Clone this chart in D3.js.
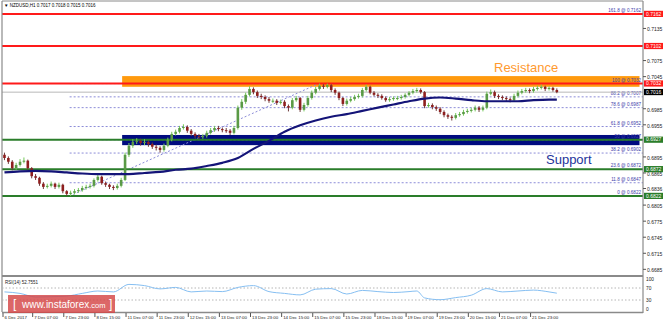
<!DOCTYPE html>
<html><head><meta charset="utf-8">
<script src="https://cdn.jsdelivr.net/npm/d3@7"></script>
<style>
html,body{margin:0;padding:0;background:#fff;}
svg{display:block;font-family:"Liberation Sans",Arial,sans-serif;}
</style></head><body>
<svg id="c" width="663" height="322"></svg>
<script>
// ---------------- DATA ----------------
const symbol = "NZDUSD,H1";
const lastOHLC = ["0.7017", "0.7018", "0.7015", "0.7016"];
const lastPrice = 0.7016;
const hoursPerCandle = 2;
const firstOpen = 0.6899;
const closes = [
0.6893,0.6886,0.6874,0.6880,0.6886,0.6888,0.6874,0.6859,0.6856,0.6845,
0.6839,0.6841,0.6845,0.6839,0.6843,0.6831,0.6826,0.6828,0.6831,0.6833,
0.6837,0.6839,0.6841,0.6852,0.6858,0.6846,0.6843,0.6839,0.6837,0.6841,
0.6852,0.6899,0.6916,0.6923,0.6925,0.6921,0.6923,0.6919,0.6914,0.6912,
0.6908,0.6916,0.6927,0.6938,0.6942,0.6949,0.6951,0.6944,0.6938,0.6934,
0.6932,0.6934,0.6940,0.6945,0.6949,0.6947,0.6945,0.6944,0.6940,0.6949,
0.6987,0.6998,0.7011,0.7022,0.7016,0.7009,0.7007,0.7003,0.7000,0.7000,
0.6996,0.6998,0.6990,0.6987,0.7001,0.7005,0.6983,0.6992,0.7005,0.7015,
0.7022,0.7028,0.7026,0.7029,0.7020,0.7015,0.7005,0.6994,0.7000,0.7003,
0.7007,0.7009,0.7020,0.7026,0.7015,0.7011,0.7009,0.7005,0.7001,0.7003,
0.7005,0.7005,0.7007,0.7011,0.7015,0.7018,0.7020,0.7016,0.6990,0.6992,
0.6988,0.6985,0.6979,0.6973,0.6970,0.6968,0.6973,0.6975,0.6979,0.6981,
0.6983,0.6987,0.6983,0.6987,0.7013,0.7016,0.7009,0.7007,0.7005,0.7003,
0.7001,0.7009,0.7015,0.7018,0.7020,0.7018,0.7022,0.7024,0.7026,0.7022,
0.7024,0.7020,0.7016];
const highs = [
0.6903,0.6896,0.6889,0.6884,0.6891,0.6894,0.6890,0.6876,0.6863,0.6858,
0.6848,0.6845,0.6849,0.6847,0.6847,0.6845,0.6833,0.6832,0.6835,0.6837,
0.6841,0.6843,0.6845,0.6855,0.6862,0.6860,0.6849,0.6845,0.6842,0.6845,
0.6856,0.6903,0.6921,0.6928,0.6930,0.6929,0.6928,0.6926,0.6922,0.6918,
0.6915,0.6920,0.6931,0.6942,0.6946,0.6953,0.6956,0.6954,0.6947,0.6941,
0.6938,0.6938,0.6944,0.6949,0.6953,0.6953,0.6950,0.6949,0.6947,0.6953,
0.6991,0.7003,0.7015,0.7027,0.7025,0.7019,0.7013,0.7010,0.7007,0.7004,
0.7003,0.7002,0.7001,0.6993,0.7005,0.7009,0.7007,0.6996,0.7009,0.7019,
0.7026,0.7032,0.7031,0.7032,0.7031,0.7023,0.7017,0.7007,0.7004,0.7007,
0.7011,0.7013,0.7024,0.7030,0.7028,0.7018,0.7014,0.7012,0.7008,0.7007,
0.7008,0.7009,0.7011,0.7014,0.7018,0.7022,0.7024,0.7023,0.7018,0.6996,
0.6995,0.6991,0.6988,0.6982,0.6976,0.6973,0.6977,0.6979,0.6983,0.6985,
0.6987,0.6991,0.6990,0.6991,0.7017,0.7021,0.7019,0.7012,0.7010,0.7008,
0.7006,0.7013,0.7019,0.7022,0.7024,0.7023,0.7026,0.7028,0.7030,0.7028,
0.7027,0.7026,0.7023];
const lows = [
0.6889,0.6882,0.6870,0.6871,0.6877,0.6883,0.6871,0.6855,0.6852,0.6841,
0.6835,0.6836,0.6838,0.6835,0.6836,0.6827,0.6822,0.6822,0.6825,0.6828,
0.6830,0.6834,0.6836,0.6838,0.6849,0.6843,0.6839,0.6835,0.6833,0.6834,
0.6838,0.6850,0.6895,0.6912,0.6919,0.6916,0.6917,0.6914,0.6910,0.6907,
0.6903,0.6905,0.6913,0.6924,0.6935,0.6939,0.6946,0.6940,0.6934,0.6930,
0.6928,0.6929,0.6931,0.6937,0.6942,0.6943,0.6941,0.6940,0.6936,0.6937,
0.6946,0.6983,0.6994,0.7008,0.7012,0.7005,0.7003,0.6999,0.6996,0.6996,
0.6992,0.6993,0.6986,0.6980,0.6984,0.6998,0.6979,0.6980,0.6989,0.7002,
0.7012,0.7019,0.7022,0.7023,0.7016,0.7011,0.7001,0.6990,0.6991,0.6997,
0.7000,0.7004,0.7006,0.7017,0.7012,0.7008,0.7005,0.7002,0.6998,0.6998,
0.7000,0.7001,0.7002,0.7004,0.7008,0.7012,0.7015,0.7013,0.6986,0.6987,
0.6984,0.6981,0.6975,0.6969,0.6966,0.6963,0.6965,0.6970,0.6972,0.6976,
0.6978,0.6980,0.6979,0.6980,0.6984,0.7010,0.7005,0.7003,0.7001,0.6999,
0.6997,0.6998,0.7006,0.7012,0.7015,0.7014,0.7015,0.7019,0.7021,0.7018,
0.7019,0.7017,0.7014];
// moving average, sampled at candle indices
const maCandle = [0,4,8,12,16,20,24,28,32,36,40,44,48,52,56,60,64,68,72,76,80,84,88,92,96,100,104,108,112,116,120,124,128,132,136,140,142];
const maValues = [0.6866,0.6868,0.6869,0.6868,0.6866,0.6864,0.6863,0.6863,0.6863,0.6865,0.6867,0.6871,0.6873,0.6878,0.6884,0.6893,0.6910,0.6925,0.6942,0.6954,0.6963,0.6970,0.6975,0.6981,0.6987,0.6993,0.6999,0.7004,0.7006,0.7004,0.7001,0.6999,0.6999,0.6999,0.7001,0.7002,0.7002];
// RSI(14), sampled at candle indices
const rsiCandle = [0,4,8,12,16,20,24,28,32,36,40,44,48,52,56,60,64,68,72,76,80,84,88,92,96,100,104,106,108,112,116,120,124,128,132,136,140,142];
const rsiValues = [57,52,40,41,43,52,60,57,82,78,67,72,57,60,58,72,78,58,52,47,66,68,50,62,58,55,58,60,37,31,38,46,68,57,60,63,57,52.7551];
const rsiLabel = "RSI(14) 52.7551";
// time axis
const timeLabels = ["6 Dec 2017","7 Dec 07:00","7 Dec 23:00","8 Dec 15:00","11 Dec 07:00","11 Dec 23:00","12 Dec 15:00","13 Dec 07:00","13 Dec 23:00","14 Dec 15:00","15 Dec 07:00","15 Dec 23:00","18 Dec 15:00","19 Dec 07:00","19 Dec 23:00","20 Dec 15:00","21 Dec 07:00","21 Dec 23:00"];
const timeLabelHours = [0,15,31,47,63,79,95,111,127,143,159,175,191,207,223,239,255,271];
// price axis (only the labels not covered by level boxes)
const priceTicks = [0.7135,0.7075,0.7045,0.6985,0.6955,0.6895,0.6865,0.6836,0.6805,0.6775,0.6745,0.6715,0.6685];
const redLevels = [0.7162, 0.7102, 0.7032];
const greenLevels = [0.6927, 0.6872, 0.6822];
// fibonacci
const fibLow = 0.6822, fibHigh = 0.7032;
const fibLowHour = 34, fibHighHour = 162;
const fibRatios = [0, 11.8, 23.6, 38.2, 50, 61.8, 78.6, 88.2, 100, 161.8];
// zones
const resistanceZone = [0.7026, 0.7046];
const supportZone = [0.6917, 0.6936];
const zoneHours = [61, 327];
const rsiLevels = [70, 30];
const rsiTicks = [100, 70, 30, 0];

// ---------------- LAYOUT ----------------
const svg = d3.select("#c");
const L = 2, R = 643, T = 2, MB = 275, RT = 277, RB = 312;
const x = d3.scaleLinear().domain([0, 328.8]).range([3.5, R]);
const y = d3.scaleLinear().domain([fibLow, fibHigh]).range([196, 196 - (fibHigh - fibLow) * 5353]);
const yr = d3.scaleLinear().domain([0, 100]).range([309, 279]);
const fmt = d3.format(".4f");

svg.append("rect").attr("width", 663).attr("height", 322).attr("fill", "#fff");
const defs = svg.append("defs");
defs.append("clipPath").attr("id", "mainclip").append("rect")
  .attr("x", L).attr("y", T).attr("width", R - L).attr("height", MB - T);
defs.append("clipPath").attr("id", "rsiclip").append("rect")
  .attr("x", L).attr("y", RT).attr("width", R - L).attr("height", RB - RT);

const main = svg.append("g").attr("clip-path", "url(#mainclip)");

// zones
main.append("rect")
  .attr("x", x(zoneHours[0])).attr("width", x(zoneHours[1]) - x(zoneHours[0]))
  .attr("y", y(resistanceZone[1])).attr("height", y(resistanceZone[0]) - y(resistanceZone[1]))
  .attr("fill", "#ff9a0e");
main.append("rect")
  .attr("x", x(zoneHours[0])).attr("width", x(zoneHours[1]) - x(zoneHours[0]))
  .attr("y", y(supportZone[1])).attr("height", y(supportZone[0]) - y(supportZone[1]))
  .attr("fill", "#000b80");

// fib lines
const fibX0 = x(fibLowHour);
fibRatios.forEach(r => {
  const p = fibLow + (fibHigh - fibLow) * r / 100;
  main.append("line").attr("x1", fibX0).attr("x2", R).attr("y1", y(p)).attr("y2", y(p))
    .attr("stroke", "#8c8cd8").attr("stroke-width", 1).attr("stroke-dasharray", "2,2");
  main.append("text").attr("x", R - 2).attr("y", y(p) - 2).attr("text-anchor", "end")
    .attr("font-size", 4.6).attr("fill", "#3c3caa").text(r + " @ " + fmt(p));
});
main.append("line").attr("x1", fibX0).attr("y1", y(fibLow)).attr("x2", x(fibHighHour)).attr("y2", y(fibHigh))
  .attr("stroke", "#8c8cd8").attr("stroke-width", 1).attr("stroke-dasharray", "2,2");

// bid line
main.append("line").attr("x1", L).attr("x2", R).attr("y1", y(lastPrice)).attr("y2", y(lastPrice))
  .attr("stroke", "#b8b8b8").attr("stroke-width", 1);

// horizontal levels
redLevels.forEach(p => main.append("line").attr("x1", L).attr("x2", R).attr("y1", y(p)).attr("y2", y(p))
  .attr("stroke", "#ff1a1a").attr("stroke-width", 2));
greenLevels.forEach(p => main.append("line").attr("x1", L).attr("x2", R).attr("y1", y(p)).attr("y2", y(p))
  .attr("stroke", "#2a7d2a").attr("stroke-width", 2));

// candles
const candles = closes.map((c, i) => ({
  i, o: i === 0 ? firstOpen : closes[i - 1], c, h: highs[i], l: lows[i]
}));
const cx = i => x(i * hoursPerCandle + 0.5);
const cg = main.append("g");
cg.selectAll("line.w").data(candles).join("line")
  .attr("x1", d => cx(d.i)).attr("x2", d => cx(d.i))
  .attr("y1", d => y(d.h)).attr("y2", d => y(d.l))
  .attr("stroke", d => d.c >= d.o ? "#74c95a" : "#6e3a3a").attr("stroke-width", 1);
cg.selectAll("rect.b").data(candles).join("rect")
  .attr("x", d => cx(d.i) - 1.3).attr("width", 2.6)
  .attr("y", d => y(Math.max(d.o, d.c)))
  .attr("height", d => Math.max(1, Math.abs(y(d.o) - y(d.c))))
  .attr("fill", d => d.c >= d.o ? "#5a9a46" : "#8e1f1f");

// moving average
main.append("path").datum(maCandle.map((k, j) => [cx(k), y(maValues[j])]))
  .attr("d", d3.line().curve(d3.curveMonotoneX))
  .attr("fill", "none").attr("stroke", "#141478").attr("stroke-width", 2.2);

// annotations
svg.append("text").attr("x", 494).attr("y", 72).attr("font-size", 13).attr("fill", "#ff9a30").text("Resistance");
svg.append("text").attr("x", 546).attr("y", 163.5).attr("font-size", 13).attr("fill", "#22329a").text("Support");

// header
svg.append("text").attr("x", 4).attr("y", 7).attr("font-size", 4.5).attr("fill", "#000")
  .text("\u25BC " + symbol + " " + lastOHLC.join(" "));

// frame
const frame = svg.append("g").attr("fill", "none").attr("stroke", "#8a8a8a");
frame.append("line").attr("x1", L).attr("x2", L).attr("y1", 1).attr("y2", RB).attr("stroke-width", 1.2);
frame.append("line").attr("x1", L).attr("x2", R).attr("y1", 1).attr("y2", 1).attr("stroke-width", 1);
frame.append("line").attr("x1", R).attr("x2", R).attr("y1", 1).attr("y2", RB + 1).attr("stroke-width", 1.2);
frame.append("line").attr("x1", L).attr("x2", R).attr("y1", MB + 0.5).attr("y2", MB + 0.5).attr("stroke-width", 1);
frame.append("line").attr("x1", L).attr("x2", R).attr("y1", RT - 0.5).attr("y2", RT - 0.5).attr("stroke-width", 1);
frame.append("line").attr("x1", L).attr("x2", R).attr("y1", RB + 0.5).attr("y2", RB + 0.5).attr("stroke-width", 1.5);

// price axis
const ax = svg.append("g");
priceTicks.forEach(p => {
  ax.append("line").attr("x1", R).attr("x2", R + 3).attr("y1", y(p)).attr("y2", y(p)).attr("stroke", "#555");
  ax.append("text").attr("x", R + 4).attr("y", y(p) + 2.8).attr("font-size", 5).attr("fill", "#222").text(fmt(p));
});
function boxLabel(p, bg) {
  ax.append("rect").attr("x", R + 1).attr("y", y(p) - 3.2).attr("width", 19).attr("height", 6.2).attr("fill", bg);
  ax.append("text").attr("x", R + 3).attr("y", y(p) + 1.7).attr("font-size", 5).attr("fill", "#fff").text(fmt(p));
}
redLevels.forEach(p => boxLabel(p, "#ff1a1a"));
greenLevels.forEach(p => boxLabel(p, "#2a7d2a"));
boxLabel(lastPrice, "#000");

// RSI panel
const rg = svg.append("g").attr("clip-path", "url(#rsiclip)");
rsiLevels.forEach(v => rg.append("line").attr("x1", L).attr("x2", R).attr("y1", yr(v)).attr("y2", yr(v))
  .attr("stroke", "#b5b5b5").attr("stroke-dasharray", "1.5,2"));
rg.append("path").datum(rsiCandle.map((k, j) => [cx(k), yr(rsiValues[j])]))
  .attr("d", d3.line().curve(d3.curveMonotoneX))
  .attr("fill", "none").attr("stroke", "#86bff2").attr("stroke-width", 1);
svg.append("text").attr("x", 5).attr("y", 284).attr("font-size", 4.5).attr("fill", "#222").text(rsiLabel);
rsiTicks.forEach(v => {
  svg.append("text").attr("x", R + 3).attr("y", yr(v) + 1.8).attr("font-size", 4.8).attr("fill", "#222").text(v);
});

// time axis
timeLabels.forEach((t, j) => {
  const tx = timeLabelHours[j] === 0 ? L + 1 : x(timeLabelHours[j]);
  svg.append("line").attr("x1", tx).attr("x2", tx).attr("y1", RB + 1).attr("y2", RB + 5).attr("stroke", "#555");
  svg.append("text").attr("x", tx + 1.5).attr("y", 319).attr("font-size", 4.4).attr("fill", "#222").text(t);
});

// watermark
const wm = svg.append("g");
wm.append("rect").attr("x", 8).attr("y", 295).attr("width", 107).attr("height", 18).attr("fill", "rgba(212,70,70,0.82)");
const wt = wm.append("text").attr("y", 308).attr("fill", "#fff");
wt.append("tspan").attr("x", 13).attr("font-size", 12).text("[");
wt.append("tspan").attr("x", 22).attr("font-size", 10).text("www.instaforex");
wt.append("tspan").attr("font-size", 7.5).text(".com");
wt.append("tspan").attr("x", 109).attr("font-size", 12).text("]");
</script>
</body></html>
